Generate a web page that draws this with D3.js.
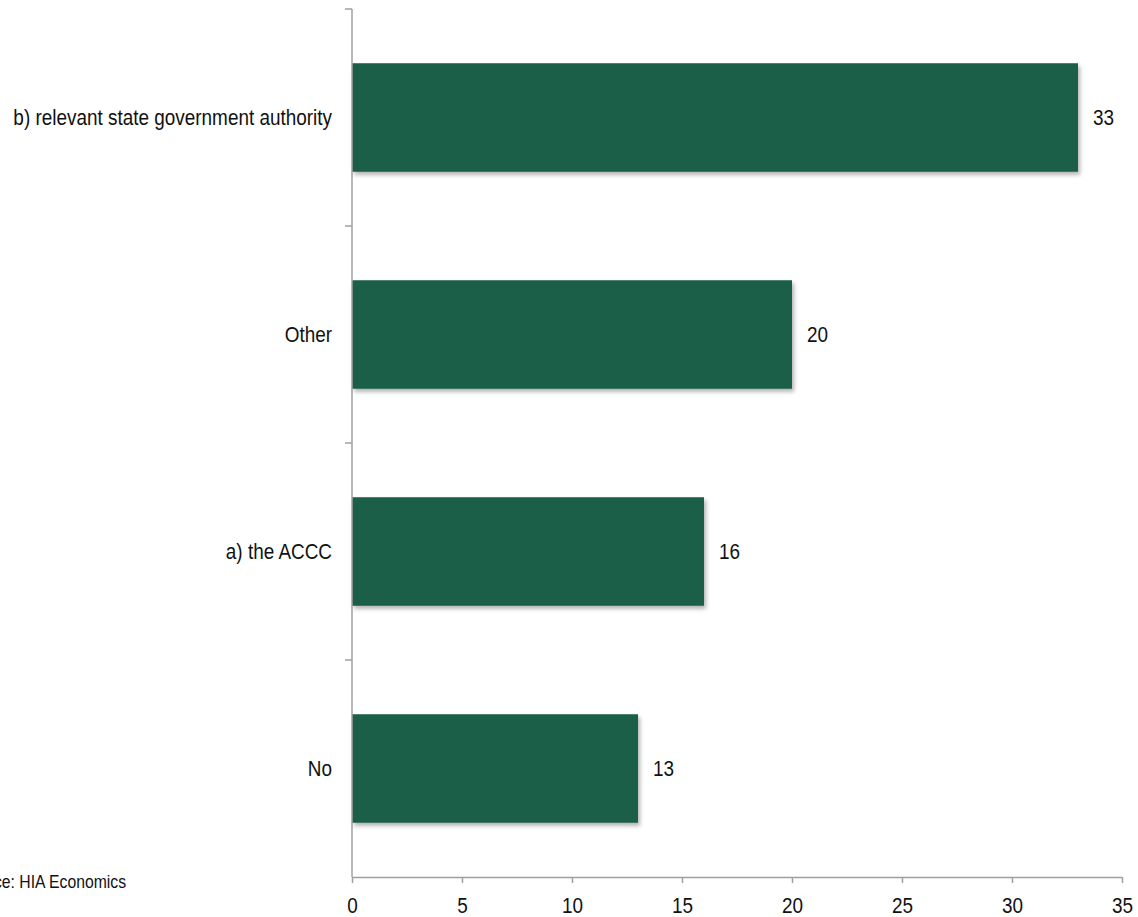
<!DOCTYPE html>
<html>
<head>
<meta charset="utf-8">
<script src="https://cdn.jsdelivr.net/npm/d3@7"></script>
<style>
  html, body { margin: 0; padding: 0; background: #fff; }
  svg { display: block; font-family: "Liberation Sans", Arial, sans-serif; }
</style>
</head>
<body>
<svg id="chart" width="1138" height="917"></svg>
<script>
// Survey responses, listed top to bottom
const categories = ["b) relevant state government authority", "Other", "a) the ACCC", "No"];
const responses = [33, 20, 16, 13];
const xTicks = [0, 5, 10, 15, 20, 25, 30, 35];
const sourceNote = "Source: HIA Economics";

const svg = d3.select("#chart");
const plotLeft = 352, plotRight = 1122, plotTop = 9, plotBottom = 877;
const axisColor = "#a0a0a0";
const fontSize = 21.5, narrow = 0.88; // slightly condensed lettering

const x = d3.scaleLinear().domain([0, 35]).range([plotLeft, plotRight]);
const y = d3.scaleBand().domain(categories).range([plotTop, plotBottom]).paddingInner(0.5).paddingOuter(0.25);

const defs = svg.append("defs");
const f = defs.append("filter").attr("id", "shadow").attr("x", "-5%").attr("y", "-5%").attr("width", "115%").attr("height", "120%");
f.append("feDropShadow").attr("dx", 2).attr("dy", 3).attr("stdDeviation", 2)
  .attr("flood-color", "#000").attr("flood-opacity", 0.3);

// Bars
svg.append("g").selectAll("rect")
  .data(categories)
  .join("rect")
  .attr("x", x(0))
  .attr("y", d => y(d))
  .attr("width", (d, i) => x(responses[i]) - x(0))
  .attr("height", y.bandwidth())
  .attr("fill", "#1a5e4a")
  .attr("filter", "url(#shadow)");

// Value labels
svg.append("g").selectAll("text")
  .data(categories)
  .join("text")
  .attr("transform", (d, i) => `translate(${x(responses[i]) + 15},${y(d) + y.bandwidth() / 2}) scale(${narrow},1)`)
  .attr("dy", "0.35em")
  .attr("font-size", fontSize)
  .attr("fill", "#111")
  .text((d, i) => responses[i]);

// Category axis with ticks at band boundaries
const yAxis = svg.append("g");
yAxis.append("line")
  .attr("x1", plotLeft).attr("x2", plotLeft).attr("y1", plotTop).attr("y2", plotBottom)
  .attr("stroke", axisColor).attr("stroke-width", 1.5);
const boundaries = d3.range(categories.length).map(i => plotTop + i * y.step());
yAxis.selectAll("line.tick")
  .data(boundaries)
  .join("line")
  .attr("class", "tick")
  .attr("x1", plotLeft - 7).attr("x2", plotLeft)
  .attr("y1", d => d).attr("y2", d => d)
  .attr("stroke", axisColor).attr("stroke-width", 1.5);
yAxis.selectAll("text")
  .data(categories)
  .join("text")
  .attr("transform", d => `translate(${plotLeft - 20},${y(d) + y.bandwidth() / 2}) scale(${narrow},1)`)
  .attr("dy", "0.35em")
  .attr("text-anchor", "end")
  .attr("font-size", fontSize)
  .attr("fill", "#111")
  .text(d => d);

// Value axis
const xAxis = svg.append("g").attr("transform", `translate(0,${plotBottom})`)
  .call(d3.axisBottom(x).tickValues(xTicks).tickSize(6).tickPadding(15).tickSizeOuter(0));
xAxis.select(".domain").attr("stroke", axisColor).attr("stroke-width", 1.5);
xAxis.selectAll(".tick line").attr("stroke", axisColor).attr("stroke-width", 1.5);
xAxis.selectAll(".tick text")
  .attr("font-size", fontSize).attr("fill", "#111")
  .attr("font-family", "Liberation Sans, Arial, sans-serif")
  .attr("transform", `scale(${narrow},1)`);

// Source note, running off the left edge
svg.append("text")
  .attr("transform", `translate(126,882) scale(0.9,1)`)
  .attr("dy", "0.35em")
  .attr("text-anchor", "end")
  .attr("font-size", 17.5)
  .attr("fill", "#111")
  .text(sourceNote);
</script>
</body>
</html>
